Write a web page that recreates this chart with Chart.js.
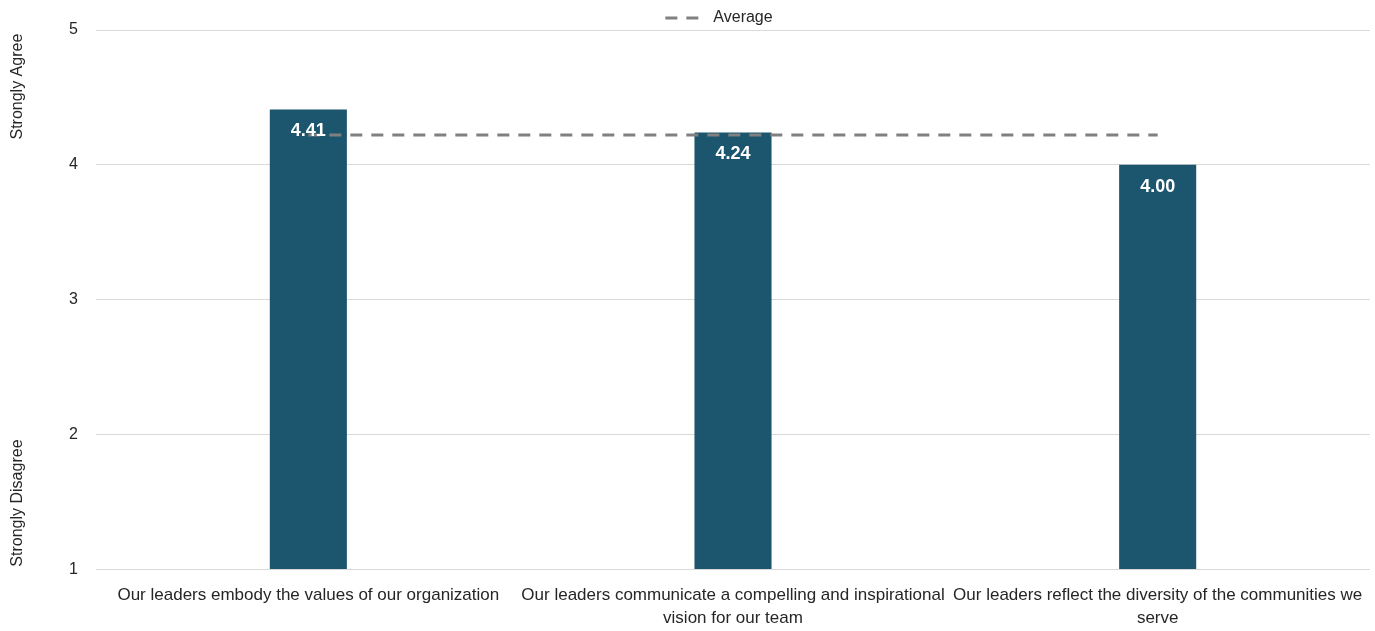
<!DOCTYPE html>
<html>
<head>
<meta charset="utf-8">
<script src="https://cdn.jsdelivr.net/npm/chart.js@4.4.1/dist/chart.umd.min.js"></script>
<style>
  html, body { margin: 0; padding: 0; background: #ffffff; }
  #wrap { width: 1375px; height: 631px; position: relative; }
</style>
</head>
<body>
<div id="wrap"><canvas id="c"></canvas></div>
<script>
const categories = [
  ["Our leaders embody the values of our organization"],
  ["Our leaders communicate a compelling and inspirational", "vision for our team"],
  ["Our leaders reflect the diversity of the communities we", "serve"]
];
const scores = [4.41, 4.24, 4.00];
const averageValues = [4.22, 4.22, 4.22];
const yTicks = [1, 2, 3, 4, 5];
const axisNotes = [
  { text: "Strongly Agree", value: 4.58 },
  { text: "Strongly Disagree", value: 1.49 }
];

const FONT = "'Liberation Sans', Arial, sans-serif";

const valueLabels = {
  id: 'valueLabels',
  afterDatasetsDraw(chart) {
    const ctx = chart.ctx;
    const meta = chart.getDatasetMeta(0);
    ctx.save();
    ctx.fillStyle = '#ffffff';
    ctx.font = "bold 18px " + FONT;
    ctx.textAlign = 'center';
    ctx.textBaseline = 'middle';
    meta.data.forEach((bar, i) => {
      ctx.fillText(scores[i].toFixed(2), bar.x, bar.y + 22);
    });
    ctx.restore();
  }
};

const sideNotes = {
  id: 'sideNotes',
  afterDraw(chart) {
    const ctx = chart.ctx;
    const y = chart.scales.y;
    ctx.save();
    ctx.fillStyle = '#262626';
    ctx.font = "16px " + FONT;
    ctx.textAlign = 'center';
    ctx.textBaseline = 'middle';
    axisNotes.forEach(n => {
      ctx.save();
      ctx.translate(18, y.getPixelForValue(n.value));
      ctx.rotate(-Math.PI / 2);
      ctx.fillText(n.text, 0, 0);
      ctx.restore();
    });
    ctx.restore();
  }
};

const legendShift = {
  id: 'legendShift',
  afterLayout(chart) {
    const lg = chart.legend;
    if (lg) { lg.left += 34; lg.right += 34; lg.top += 6; lg.bottom += 6; }
  }
};

new Chart(document.getElementById('c'), {
  data: {
    labels: categories,
    datasets: [
      {
        type: 'bar',
        label: 'Score',
        data: scores,
        backgroundColor: '#1B566E',
        categoryPercentage: 1,
        barPercentage: 0.1815,
        order: 2
      },
      {
        type: 'line',
        label: 'Average',
        data: averageValues,
        borderColor: '#808080',
        backgroundColor: '#808080',
        borderWidth: 3,
        borderDash: [12, 9],
        pointRadius: 0,
        pointHoverRadius: 0,
        fill: false,
        order: 1
      }
    ]
  },
  options: {
    responsive: true,
    maintainAspectRatio: false,
    animation: false,
    layout: { padding: { top: -1, right: 5, bottom: -14, left: 0 } },
    plugins: {
      tooltip: { enabled: false },
      legend: {
        position: 'top',
        labels: {
          usePointStyle: true,
          pointStyle: 'line',
          pointStyleWidth: 40,
          boxHeight: 14,
          padding: 5,
          color: '#262626',
          font: { family: FONT, size: 16 },
          generateLabels(chart) {
            const ds = chart.data.datasets[1];
            return [{
              text: ds.label,
              datasetIndex: 1,
              fillStyle: ds.borderColor,
              strokeStyle: ds.borderColor,
              lineWidth: 3,
              lineDash: [12, 9],
              lineDashOffset: 0,
              pointStyle: 'line',
              hidden: false,
              fontColor: '#262626'
            }];
          }
        }
      }
    },
    scales: {
      x: {
        afterFit(scale) { scale.paddingRight = 0; scale.paddingLeft = 0; },
        grid: { display: false, drawTicks: false },
        border: { display: false },
        ticks: {
          color: '#262626',
          padding: 15,
          maxRotation: 0,
          autoSkip: false,
          font: { family: FONT, size: 17, lineHeight: 1.35 }
        }
      },
      y: {
        min: 1,
        max: 5,
        afterFit(scale) { scale.width = 96; },
        afterBuildTicks(scale) { scale.ticks = yTicks.map(v => ({ value: v })); },
        grid: { color: '#d9d9d9', lineWidth: 1, drawTicks: false },
        border: { display: false },
        ticks: {
          color: '#262626',
          padding: 18,
          font: { family: FONT, size: 16 }
        }
      }
    }
  },
  plugins: [valueLabels, sideNotes, legendShift]
});
</script>
</body>
</html>
